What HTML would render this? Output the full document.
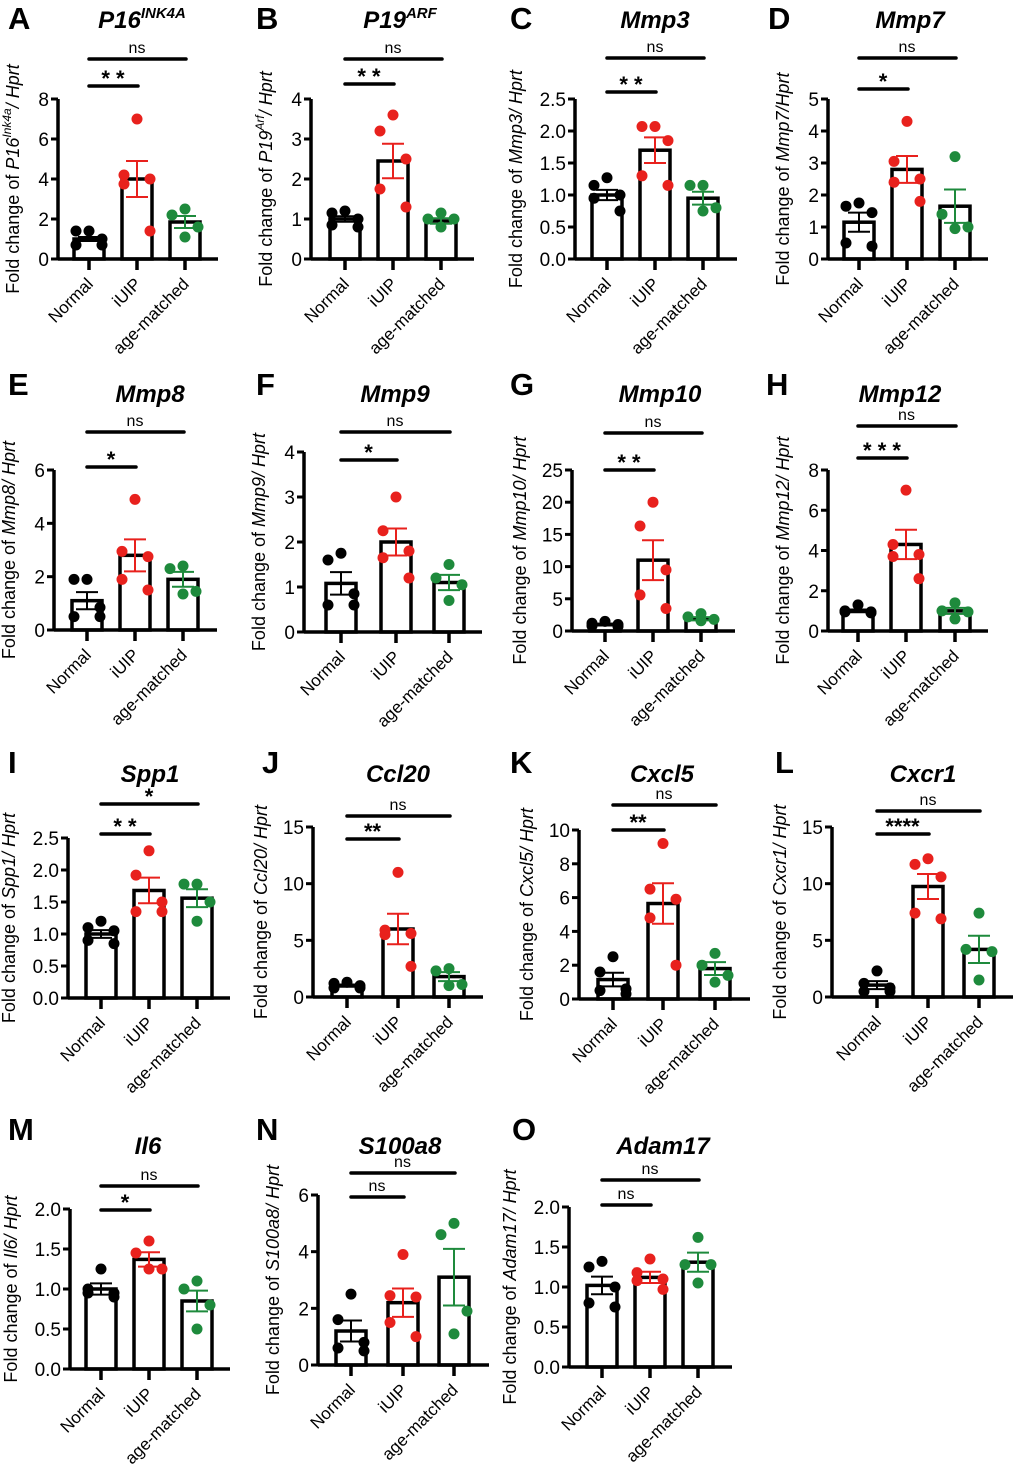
<!DOCTYPE html>
<html><head><meta charset="utf-8">
<style>
html,body{margin:0;padding:0;background:#fff;}
svg{display:block;font-family:"Liberation Sans",Arial,sans-serif;}
</style></head>
<body>
<svg id="fig" width="1020" height="1472" viewBox="0 0 1020 1472" xmlns="http://www.w3.org/2000/svg"></svg>
<script>
const groups = ["Normal","iUIP","age-matched"];
const colors = ["#000000","#e8211d","#1e8a3c"];
const ptsA=[[1.4,1.4,1.0,0.7,0.7],[7.0,4.2,4.0,3.75,1.4],[2.5,2.2,1.6,1.1]];
const meanA=[1.0,4.0,1.85]; const semA=[0.1,0.9,0.3];
const ptsB=[[1.2,1.15,1.0,0.85,0.8],[3.6,3.2,2.5,1.75,1.3],[1.15,1.0,1.0,0.8]];
const meanB=[1.0,2.45,0.95]; const semB=[0.07,0.43,0.07];
const ptsC=[[1.27,1.15,1.0,0.95,0.75],[2.07,2.07,1.85,1.3,1.15],[1.15,1.15,0.8,0.75]];
const meanC=[1.0,1.7,0.95]; const semC=[0.08,0.2,0.1];
const ptsD=[[1.75,1.65,1.45,0.5,0.4],[4.3,3.05,2.5,2.4,1.8],[3.2,1.4,1.0,0.95]];
const meanD=[1.15,2.8,1.65]; const semD=[0.3,0.42,0.52];
const ptsE=[[1.9,1.9,0.85,0.5,0.5],[4.9,2.95,2.75,1.9,1.5],[2.4,2.3,1.45,1.35]];
const meanE=[1.1,2.8,1.9]; const semE=[0.32,0.6,0.28];
const ptsF=[[1.75,1.6,0.85,0.6,0.6],[3.0,2.25,1.8,1.65,1.2],[1.5,1.2,1.05,0.7]];
const meanF=[1.08,2.0,1.1]; const semF=[0.25,0.3,0.17];
const ptsG=[[1.5,1.2,1.0,0.8,0.7],[20,16.3,9.5,5.6,3.5],[2.7,2.2,1.8,1.6]];
const meanG=[1.0,11.0,1.9]; const semG=[0.15,3.1,0.25];
const ptsH=[[1.3,1.0,0.95,0.95,0.9],[7.0,4.3,3.8,3.7,2.6],[1.4,1.0,0.95,0.6]];
const meanH=[1.0,4.3,1.0]; const semH=[0.07,0.73,0.15];
const ptsI=[[1.2,1.1,1.05,0.9,0.85],[2.3,1.92,1.5,1.35,1.35],[1.78,1.78,1.5,1.2]];
const meanI=[1.0,1.68,1.56]; const semI=[0.06,0.2,0.14];
const ptsJ=[[1.3,1.2,1.0,0.8,0.8],[11,5.9,5.6,5.5,2.7],[2.5,2.3,1.1,1.0]];
const meanJ=[1.0,6.0,1.8]; const semJ=[0.1,1.35,0.4];
const ptsK=[[2.5,1.6,0.6,0.5,0.3],[9.2,6.5,5.9,4.8,2.0],[2.7,2.0,1.4,1.0]];
const meanK=[1.15,5.65,1.8]; const semK=[0.4,1.2,0.38];
const ptsL=[[2.3,1.2,0.8,0.5,0.5],[12.2,11.7,10.6,7.4,6.9],[7.4,4.2,4.0,1.5]];
const meanL=[1.05,9.75,4.2]; const semL=[0.35,1.1,1.2];
const ptsM=[[1.25,1.0,0.95,0.95,0.9],[1.6,1.45,1.25,1.25],[1.1,1.0,0.8,0.5]];
const meanM=[1.0,1.37,0.85]; const semM=[0.07,0.09,0.13];
const ptsN=[[2.5,1.6,0.8,0.6,0.5],[3.9,2.45,2.4,1.5,1.0],[5.0,4.6,1.9,1.1]];
const meanN=[1.2,2.2,3.1]; const semN=[0.37,0.5,1.0];
const ptsO=[[1.32,1.25,1.0,0.8,0.75],[1.35,1.18,1.1,1.08,0.97],[1.62,1.28,1.28,1.05]];
const meanO=[1.02,1.12,1.31]; const semO=[0.11,0.07,0.12];
const maxes=[8,4,2.5,5,6,4,25,8,2.5,15,10,15,2,6,2];
const steps=[2,1,0.5,1,2,1,5,2,0.5,5,2,5,0.5,2,0.5];
const sigShort=["* *","* *","* *","*","*","*","* *","* * *","* *","**","**","****","*","ns","ns"];
const sigLong=["ns","ns","ns","ns","ns","ns","ns","ns","*","ns","ns","ns","ns","ns","ns"];

const L=[
 {id:"A",t:"P16",sup:"INK4A",yl:["P16","Ink4a"],ax:58,y0:259,yt:99,xs:[89,137,185],r:218,lx:8,ly:29,tx:142,ty:28,s1:86,s2:59,pts:ptsA,m:meanA,e:semA},
 {id:"B",t:"P19",sup:"ARF",yl:["P19","Arf"],ax:311,y0:259,yt:99,xs:[345,393,441],r:474,lx:256,ly:29,tx:400,ty:28,s1:84,s2:59,pts:ptsB,m:meanB,e:semB},
 {id:"C",t:"Mmp3",yl:["Mmp3"],ax:575,y0:259,yt:99,xs:[607,655,703],r:737,lx:510,ly:29,tx:655,ty:28,s1:92,s2:58,pts:ptsC,m:meanC,e:semC},
 {id:"D",t:"Mmp7",yl:["Mmp7"],ax:828,y0:259,yt:99,xs:[859,907,955],r:988,lx:768,ly:29,tx:910,ty:28,s1:89,s2:58,pts:ptsD,m:meanD,e:semD,noSpace:true},
 {id:"E",t:"Mmp8",yl:["Mmp8"],ax:54,y0:630,yt:470,xs:[87,135,183],r:217,lx:8,ly:395,tx:150,ty:402,s1:467,s2:432,pts:ptsE,m:meanE,e:semE},
 {id:"F",t:"Mmp9",yl:["Mmp9"],ax:304,y0:632,yt:452,xs:[341,396,449],r:482,lx:256,ly:395,tx:395,ty:402,s1:460,s2:432,pts:ptsF,m:meanF,e:semF},
 {id:"G",t:"Mmp10",yl:["Mmp10"],ax:572,y0:631,yt:470,xs:[605,653,701],r:735,lx:510,ly:395,tx:660,ty:402,s1:470,s2:433,pts:ptsG,m:meanG,e:semG},
 {id:"H",t:"Mmp12",yl:["Mmp12"],ax:828,y0:631,yt:470,xs:[858,906,955],r:988,lx:766,ly:395,tx:900,ty:402,s1:458,s2:426,pts:ptsH,m:meanH,e:semH},
 {id:"I",t:"Spp1",yl:["Spp1"],ax:68,y0:998,yt:838,xs:[101,149,197],r:230,lx:8,ly:773,tx:150,ty:782,s1:834,s2:804,pts:ptsI,m:meanI,e:semI},
 {id:"J",t:"Ccl20",yl:["Ccl20"],ax:313,y0:997,yt:827,xs:[347,398,449],r:483,lx:262,ly:773,tx:398,ty:782,s1:839,s2:816,pts:ptsJ,m:meanJ,e:semJ},
 {id:"K",t:"Cxcl5",yl:["Cxcl5"],ax:579,y0:999,yt:830,xs:[613,663,715],r:750,lx:510,ly:773,tx:662,ty:782,s1:830,s2:805,pts:ptsK,m:meanK,e:semK},
 {id:"L",t:"Cxcr1",yl:["Cxcr1"],ax:832,y0:997,yt:827,xs:[877,928,979],r:1013,lx:775,ly:773,tx:923,ty:782,s1:834,s2:811,pts:ptsL,m:meanL,e:semL},
 {id:"M",t:"Il6",yl:["Il6"],ax:70,y0:1369,yt:1209,xs:[101,149,197],r:230,lx:8,ly:1140,tx:148,ty:1154,s1:1210,s2:1186,pts:ptsM,m:meanM,e:semM},
 {id:"N",t:"S100a8",yl:["S100a8"],ax:318,y0:1365,yt:1195,xs:[351,403,454],r:489,lx:256,ly:1140,tx:400,ty:1154,s1:1197,s2:1173,pts:ptsN,m:meanN,e:semN},
 {id:"O",t:"Adam17",yl:["Adam17"],ax:569,y0:1367,yt:1207,xs:[602,650,698],r:732,lx:512,ly:1140,tx:663,ty:1154,s1:1205,s2:1180,pts:ptsO,m:meanO,e:semO}
];
const NS="http://www.w3.org/2000/svg";
const svg=document.getElementById("fig");
function mk(tag,attrs,parent,text){const e=document.createElementNS(NS,tag);for(const k in attrs)e.setAttribute(k,attrs[k]);if(text!==undefined)e.textContent=text;(parent||svg).appendChild(e);return e;}
const jit5=[0,-13,13,-13,13], jit4=[0,-13,13,0];

L.forEach((p,i)=>{
  const g=mk("g",{});
  
  
  const ymax=maxes[i], step=steps[i];
  const Y=v=>p.y0-(v/ymax)*(p.y0-p.yt);
  const dec=step<1?1:0;
  const maxChars=ymax.toFixed(dec).length;
  const lt=mk("text",{x:p.lx,y:p.ly,"font-size":31,"font-weight":"bold"},g,p.id);
  
  
  const tt=mk("text",{x:p.tx,y:p.ty,"font-size":24,"font-weight":"bold","font-style":"italic","text-anchor":"middle"},g);
  
  
  mk("tspan",{},tt,p.t);
  if(p.sup) mk("tspan",{"font-size":15,dy:-10},tt,p.sup);
  const cy=(p.y0+p.yt)/2, cx=p.ax-39-7*(maxChars-1);
  const yl=mk("text",{x:cx,y:cy,"font-size":18,"text-anchor":"middle",transform:`rotate(-90 ${cx} ${cy})`},g);
  
  
  mk("tspan",{},yl,"Fold change of ");
  mk("tspan",{"font-style":"italic"},yl,p.yl[0]);
  if(p.yl[1]) mk("tspan",{"font-style":"italic","font-size":12,dy:-8},yl,p.yl[1]);
  mk("tspan",{"font-style":"italic",dy:p.yl[1]?8:0},yl,p.noSpace?"/Hprt":"/ Hprt");
  for(let v=0;v<=ymax+1e-9;v+=step){
    const y=Y(v);
    mk("line",{x1:p.ax-7,x2:p.ax,y1:y,y2:y,stroke:"#000","stroke-width":3},g);
    const tl=mk("text",{x:p.ax-9,y:y+7,"font-size":19,"text-anchor":"end"},g,v.toFixed(dec));
    
    
  }
  p.xs.forEach((x,k)=>{
    const yb=Y(p.m[k]);
    const b=mk("rect",{x:x-15,y:yb,width:30,height:p.y0-yb,fill:"#fff",stroke:"#000","stroke-width":3.5},g);
    
    
    mk("line",{x1:x,x2:x,y1:p.y0,y2:p.y0+11,stroke:"#000","stroke-width":3.5},g);
    const xl=mk("text",{x:x+5,y:p.y0+26,"font-size":17,"text-anchor":"end",transform:`rotate(-45 ${x+5} ${p.y0+26})`},g,groups[k]);
    
    
  });
  mk("line",{x1:p.ax,x2:p.ax,y1:p.yt,y2:p.y0+1.5,stroke:"#000","stroke-width":3.5},g);
  mk("line",{x1:p.ax,x2:p.r,y1:p.y0,y2:p.y0,stroke:"#000","stroke-width":3.5},g);
  p.xs.forEach((x,k)=>{
    const pts=p.pts[k]; const jit=pts.length===5?jit5:jit4;
    pts.forEach((v,j)=>{
      const c=mk("circle",{cx:x+jit[j],cy:Y(v),r:5.5,fill:colors[k]},g);
      
      
    });
    const hi=Y(p.m[k]+p.e[k]), lo=Y(p.m[k]-p.e[k]);
    mk("line",{x1:x,x2:x,y1:hi,y2:lo,stroke:colors[k],"stroke-width":2},g);
    mk("line",{x1:x-11,x2:x+11,y1:hi,y2:hi,stroke:colors[k],"stroke-width":2},g);
    mk("line",{x1:x-11,x2:x+11,y1:lo,y2:lo,stroke:colors[k],"stroke-width":2},g);
  });
  const s1=mk("line",{x1:p.xs[0],x2:p.xs[1]+1,y1:p.s1,y2:p.s1,stroke:"#000","stroke-width":3.5,"stroke-linecap":"round"},g);
  
  const ns1=sigShort[i]==="ns";
  const st=mk("text",{x:(p.xs[0]+p.xs[1])/2,y:p.s1-(ns1?6:0),"font-size":ns1?16:22,"text-anchor":"middle","font-weight":ns1?"normal":"bold"},g,sigShort[i]);
  
  
  const s2=mk("line",{x1:p.xs[0],x2:p.xs[2]+1,y1:p.s2,y2:p.s2,stroke:"#000","stroke-width":3.5,"stroke-linecap":"round"},g);
  
  const ns2=sigLong[i]==="ns";
  const st2=mk("text",{x:(p.xs[0]+p.xs[2])/2,y:p.s2-(ns2?6:0),"font-size":ns2?16:22,"text-anchor":"middle","font-weight":ns2?"normal":"bold"},g,sigLong[i]);
  
  
});
</script>
</body></html>
